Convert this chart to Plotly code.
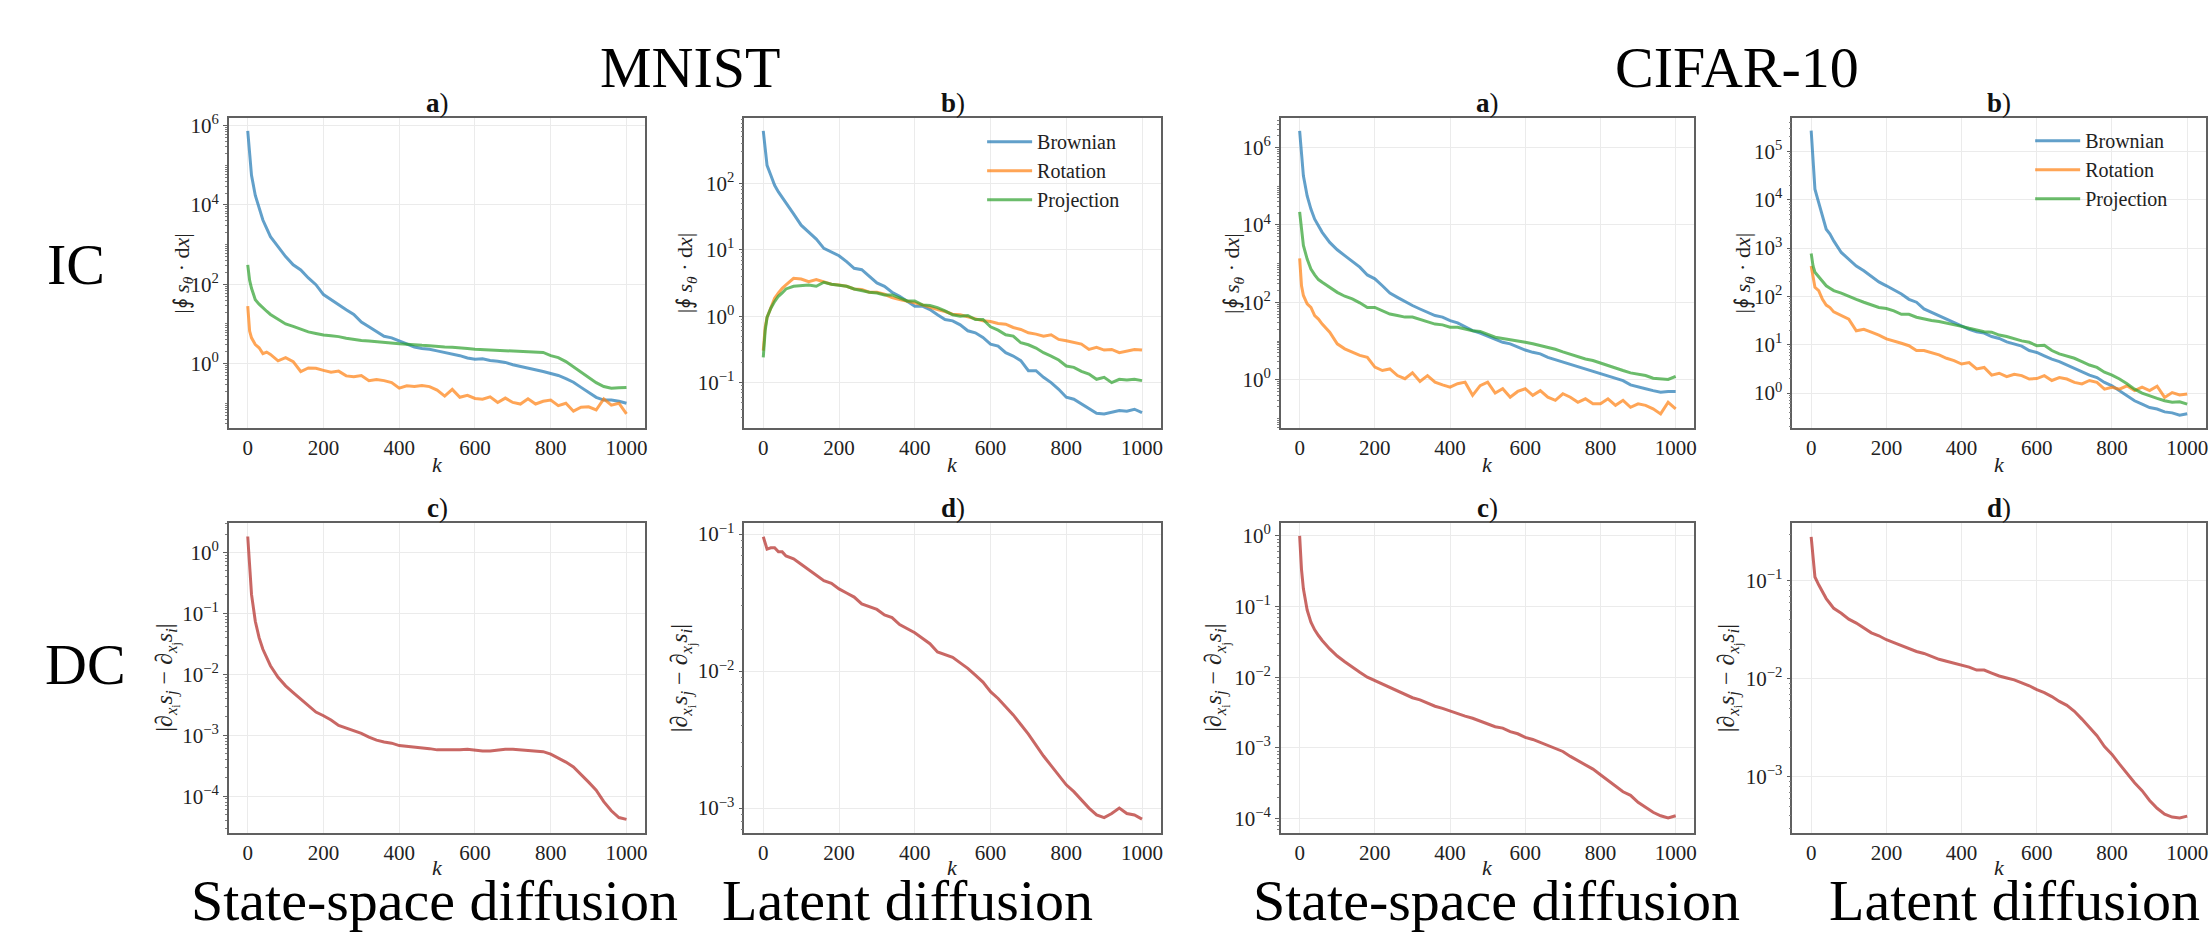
import plotly.graph_objects as go

# ---------------- data (stored as log10) ----------------
K = [0, 5, 10, 20, 30, 40, 50, 60, 80, 100,
     120, 140, 160, 180, 200, 220, 240, 260, 280, 300,
     320, 340, 360, 380, 400, 420, 440, 460, 480, 500,
     520, 540, 560, 580, 600, 620, 640, 660, 680, 700,
     720, 740, 760, 780, 800, 820, 840, 860, 880, 900,
     920, 940, 960, 980, 1000]

# MNIST, state-space, IC (panel a)
mnist_ss_brownian_log = [5.87, 5.20, 4.75, 4.24, 3.91, 3.62, 3.41, 3.20, 2.95, 2.70,
                         2.49, 2.36, 2.16, 1.99, 1.74, 1.61, 1.47, 1.36, 1.24, 1.05,
                         0.93, 0.80, 0.69, 0.65, 0.57, 0.49, 0.42, 0.38, 0.36, 0.32,
                         0.28, 0.24, 0.20, 0.14, 0.11, 0.12, 0.08, 0.06, 0.03, -0.03,
                         -0.07, -0.12, -0.15, -0.20, -0.25, -0.30, -0.38, -0.47, -0.60, -0.73,
                         -0.85, -0.92, -0.92, -0.95, -1.00]
mnist_ss_rotation_log = [1.45, 0.82, 0.65, 0.48, 0.40, 0.25, 0.29, 0.23, 0.07, 0.15,
                         0.05, -0.20, -0.11, -0.12, -0.17, -0.22, -0.19, -0.31, -0.33, -0.30,
                         -0.43, -0.40, -0.43, -0.48, -0.62, -0.56, -0.58, -0.55, -0.58, -0.67,
                         -0.82, -0.65, -0.85, -0.80, -0.88, -0.90, -0.84, -0.98, -0.87, -0.98,
                         -1.02, -0.89, -1.02, -0.95, -0.92, -1.06, -1.00, -1.20, -1.10, -1.09,
                         -1.17, -0.89, -1.05, -1.00, -1.27]
mnist_ss_projection_log = [2.49, 2.10, 1.90, 1.61, 1.50, 1.40, 1.32, 1.24, 1.11, 1.00,
                           0.94, 0.86, 0.80, 0.76, 0.72, 0.70, 0.68, 0.64, 0.61, 0.58,
                           0.57, 0.55, 0.53, 0.51, 0.50, 0.49, 0.47, 0.46, 0.45, 0.43,
                           0.42, 0.41, 0.40, 0.38, 0.36, 0.35, 0.34, 0.33, 0.33, 0.32,
                           0.31, 0.30, 0.28, 0.28, 0.20, 0.15, 0.05, -0.08, -0.20, -0.35,
                           -0.48, -0.58, -0.62, -0.61, -0.60]

# MNIST, latent, IC (panel b)
mnist_lat_brownian_log = [2.79, 2.50, 2.27, 2.12, 1.97, 1.87, 1.79, 1.72, 1.54, 1.37,
                          1.27, 1.16, 1.02, 0.97, 0.91, 0.82, 0.72, 0.70, 0.60, 0.50,
                          0.45, 0.36, 0.30, 0.22, 0.15, 0.15, 0.10, 0.02, -0.05, -0.07,
                          -0.13, -0.22, -0.25, -0.32, -0.42, -0.45, -0.55, -0.60, -0.67, -0.82,
                          -0.82, -0.92, -1.00, -1.10, -1.22, -1.25, -1.32, -1.40, -1.46, -1.47,
                          -1.45, -1.42, -1.43, -1.40, -1.45]
mnist_lat_rotation_log = [-0.52, -0.17, -0.02, 0.12, 0.27, 0.35, 0.42, 0.47, 0.57, 0.56,
                          0.52, 0.55, 0.51, 0.48, 0.47, 0.45, 0.41, 0.40, 0.36, 0.36,
                          0.33, 0.28, 0.25, 0.23, 0.20, 0.17, 0.13, 0.10, 0.07, 0.03,
                          0.02, -0.01, -0.05, -0.07, -0.08, -0.11, -0.12, -0.17, -0.20, -0.25,
                          -0.27, -0.30, -0.28, -0.35, -0.37, -0.40, -0.42, -0.50, -0.47, -0.51,
                          -0.50, -0.55, -0.52, -0.50, -0.51]
mnist_lat_projection_log = [-0.62, -0.22, -0.02, 0.12, 0.22, 0.30, 0.35, 0.41, 0.45, 0.46,
                            0.47, 0.45, 0.51, 0.48, 0.46, 0.45, 0.41, 0.38, 0.36, 0.35,
                            0.32, 0.32, 0.27, 0.23, 0.23, 0.17, 0.16, 0.13, 0.08, 0.02,
                            0.00, 0.01, -0.05, -0.05, -0.16, -0.21, -0.28, -0.30, -0.40, -0.43,
                            -0.48, -0.55, -0.60, -0.66, -0.75, -0.77, -0.83, -0.87, -0.95, -0.92,
                            -1.00, -0.95, -0.96, -0.95, -0.97]

# CIFAR-10, state-space, IC (panel a)
cifar_ss_brownian_log = [6.43, 5.87, 5.27, 4.75, 4.41, 4.15, 3.98, 3.81, 3.55, 3.36,
                         3.21, 3.06, 2.91, 2.71, 2.61, 2.43, 2.24, 2.13, 2.02, 1.92,
                         1.83, 1.75, 1.66, 1.62, 1.53, 1.47, 1.36, 1.27, 1.21, 1.13,
                         1.04, 0.97, 0.93, 0.84, 0.77, 0.71, 0.67, 0.58, 0.52, 0.47,
                         0.41, 0.34, 0.27, 0.21, 0.15, 0.09, 0.03, -0.02, -0.13, -0.19,
                         -0.23, -0.28, -0.32, -0.30, -0.30]
cifar_ss_rotation_log = [3.14, 2.43, 2.18, 1.96, 1.87, 1.66, 1.57, 1.44, 1.23, 0.93,
                         0.80, 0.71, 0.63, 0.58, 0.33, 0.24, 0.28, 0.11, 0.03, 0.18,
                         -0.04, 0.11, -0.06, -0.13, -0.19, -0.10, -0.06, -0.40, -0.15, -0.06,
                         -0.34, -0.23, -0.45, -0.30, -0.23, -0.40, -0.28, -0.45, -0.53, -0.36,
                         -0.45, -0.58, -0.49, -0.62, -0.62, -0.49, -0.66, -0.53, -0.71, -0.62,
                         -0.66, -0.75, -0.88, -0.58, -0.75]
cifar_ss_projection_log = [4.34, 3.81, 3.47, 3.12, 2.86, 2.71, 2.59, 2.52, 2.39, 2.26,
                           2.16, 2.09, 1.99, 1.87, 1.87, 1.79, 1.70, 1.66, 1.62, 1.62,
                           1.56, 1.50, 1.44, 1.42, 1.36, 1.36, 1.32, 1.27, 1.25, 1.17,
                           1.10, 1.07, 1.04, 1.00, 0.97, 0.93, 0.88, 0.84, 0.79, 0.72,
                           0.66, 0.58, 0.54, 0.50, 0.44, 0.37, 0.30, 0.24, 0.18, 0.15,
                           0.11, 0.04, 0.03, 0.01, 0.09]

# CIFAR-10, latent, IC (panel b)
cifar_lat_brownian_log = [5.43, 4.90, 4.22, 3.94, 3.67, 3.39, 3.29, 3.15, 2.91, 2.77,
                          2.63, 2.53, 2.41, 2.30, 2.22, 2.14, 2.05, 1.94, 1.88, 1.74,
                          1.67, 1.60, 1.53, 1.45, 1.39, 1.32, 1.27, 1.24, 1.17, 1.13,
                          1.06, 1.01, 0.97, 0.88, 0.84, 0.77, 0.70, 0.65, 0.58, 0.51,
                          0.44, 0.37, 0.32, 0.22, 0.15, 0.05, -0.06, -0.16, -0.23, -0.30,
                          -0.33, -0.39, -0.41, -0.46, -0.43]
cifar_lat_rotation_log = [2.63, 2.36, 2.19, 2.12, 1.94, 1.82, 1.77, 1.68, 1.60, 1.53,
                          1.29, 1.32, 1.26, 1.20, 1.12, 1.08, 1.03, 0.98, 0.88, 0.88,
                          0.84, 0.79, 0.72, 0.67, 0.60, 0.63, 0.50, 0.53, 0.37, 0.41,
                          0.34, 0.39, 0.36, 0.29, 0.30, 0.36, 0.26, 0.32, 0.29, 0.22,
                          0.19, 0.26, 0.22, 0.08, 0.12, 0.08, 0.15, 0.05, 0.12, 0.05,
                          0.14, -0.09, 0.01, -0.04, -0.02]
cifar_lat_projection_log = [2.89, 2.63, 2.50, 2.41, 2.32, 2.22, 2.17, 2.12, 2.07, 2.00,
                            1.94, 1.88, 1.82, 1.77, 1.75, 1.70, 1.63, 1.63, 1.57, 1.53,
                            1.50, 1.48, 1.45, 1.41, 1.38, 1.34, 1.31, 1.27, 1.26, 1.20,
                            1.17, 1.12, 1.08, 1.05, 0.98, 0.99, 0.88, 0.81, 0.76, 0.72,
                            0.65, 0.58, 0.53, 0.43, 0.37, 0.29, 0.19, 0.08, 0.00, -0.06,
                            -0.11, -0.16, -0.19, -0.18, -0.23]

# DC panels (c, d)
mnist_ss_dc_log = [0.26, -0.26, -0.69, -1.13, -1.40, -1.59, -1.73, -1.86, -2.05, -2.19,
                   -2.30, -2.41, -2.51, -2.62, -2.68, -2.75, -2.84, -2.88, -2.92, -2.97,
                   -3.03, -3.08, -3.11, -3.13, -3.17, -3.18, -3.19, -3.21, -3.22, -3.24,
                   -3.24, -3.25, -3.24, -3.23, -3.25, -3.26, -3.26, -3.24, -3.23, -3.23,
                   -3.24, -3.25, -3.26, -3.27, -3.31, -3.37, -3.44, -3.52, -3.64, -3.77,
                   -3.90, -4.09, -4.24, -4.35, -4.38]
mnist_lat_dc_log = [-1.02, -1.06, -1.11, -1.10, -1.10, -1.13, -1.13, -1.16, -1.18, -1.22,
                    -1.26, -1.30, -1.34, -1.36, -1.40, -1.43, -1.46, -1.51, -1.53, -1.55,
                    -1.59, -1.61, -1.66, -1.69, -1.72, -1.76, -1.80, -1.86, -1.88, -1.90,
                    -1.94, -1.98, -2.03, -2.08, -2.15, -2.20, -2.26, -2.32, -2.39, -2.46,
                    -2.54, -2.62, -2.69, -2.76, -2.83, -2.88, -2.94, -3.00, -3.05, -3.07,
                    -3.04, -3.00, -3.04, -3.05, -3.08]
cifar_ss_dc_log = [0.00, -0.48, -0.75, -1.05, -1.22, -1.33, -1.41, -1.48, -1.60, -1.70,
                   -1.78, -1.86, -1.93, -2.00, -2.05, -2.10, -2.15, -2.19, -2.24, -2.29,
                   -2.32, -2.37, -2.41, -2.44, -2.48, -2.51, -2.55, -2.58, -2.62, -2.66,
                   -2.70, -2.72, -2.77, -2.80, -2.85, -2.88, -2.92, -2.96, -3.00, -3.05,
                   -3.12, -3.18, -3.24, -3.30, -3.38, -3.46, -3.54, -3.62, -3.67, -3.77,
                   -3.84, -3.91, -3.96, -3.99, -3.96]
cifar_lat_dc_log = [-0.55, -0.76, -0.96, -1.04, -1.11, -1.18, -1.23, -1.28, -1.33, -1.39,
                    -1.43, -1.48, -1.53, -1.56, -1.60, -1.63, -1.66, -1.69, -1.72, -1.74,
                    -1.77, -1.80, -1.82, -1.84, -1.86, -1.88, -1.91, -1.91, -1.94, -1.97,
                    -1.99, -2.01, -2.04, -2.07, -2.11, -2.14, -2.18, -2.23, -2.27, -2.33,
                    -2.41, -2.50, -2.58, -2.69, -2.77, -2.87, -2.97, -3.06, -3.14, -3.24,
                    -3.32, -3.38, -3.41, -3.42, -3.40]

SERIES_NAMES = ["Brownian", "Rotation", "Projection"]
X_TICKS = [0, 200, 400, 600, 800, 1000]

# y-axis tick exponents and log10 ranges per panel
TICKS = {
    "mnist_a": [0, 2, 4, 6], "mnist_b": [-1, 0, 1, 2],
    "cifar_a": [0, 2, 4, 6], "cifar_b": [0, 1, 2, 3, 4, 5],
    "mnist_c": [-4, -3, -2, -1, 0], "mnist_d": [-3, -2, -1],
    "cifar_c": [-4, -3, -2, -1, 0], "cifar_d": [-3, -2, -1],
}
YRANGE = {
    "mnist_a": [-1.62, 6.19], "mnist_b": [-1.68, 2.98],
    "cifar_a": [-1.24, 6.76], "cifar_b": [-0.72, 5.69],
    "mnist_c": [-4.60, 0.48], "mnist_d": [-3.18, -0.92],
    "cifar_c": [-4.20, 0.18], "cifar_d": [-3.57, -0.41],
}

# ---------------- layout helpers ----------------
W, H = 2212, 934
SERIF = "Liberation Serif, Times New Roman, serif"
IC_COLORS = ["rgba(31,119,180,0.7)", "rgba(255,127,14,0.7)", "rgba(44,160,44,0.7)"]
DC_COLOR = "rgba(180,45,40,0.72)"
COLS = [(229, 646), (745, 1162), (1282, 1696), (1794, 2208)]
ROWS = [(112, 424), (520, 832)]


def px(x):
    return x / W


def py(y):
    return 1 - y / H


def to_val(logs):
    return [10 ** v for v in logs]


def sup(e):
    s = str(abs(e))
    return "10<sup>" + ("\u2212" if e < 0 else "") + s + "</sup>"


IC_Y = "|\u222e <i>s</i><sub><i>\u03b8</i></sub> \u00b7 d<i>x</i>|"
DC_Y = ("|\u2202<sub><i>x</i><sub>i</sub></sub><i>s</i><sub><i>j</i></sub> \u2212 "
        "\u2202<sub><i>x</i><sub>j</sub></sub><i>s</i><sub><i>i</i></sub>|")

panels = [
    ("mnist_a", 0, 0, "a", [(n, v, c) for n, v, c in zip(SERIES_NAMES, [mnist_ss_brownian_log, mnist_ss_rotation_log, mnist_ss_projection_log], IC_COLORS)], 183, None),
    ("mnist_b", 0, 1, "b", [(n, v, c) for n, v, c in zip(SERIES_NAMES, [mnist_lat_brownian_log, mnist_lat_rotation_log, mnist_lat_projection_log], IC_COLORS)], 687, "legend"),
    ("cifar_a", 0, 2, "a", [(n, v, c) for n, v, c in zip(SERIES_NAMES, [cifar_ss_brownian_log, cifar_ss_rotation_log, cifar_ss_projection_log], IC_COLORS)], 1234, None),
    ("cifar_b", 0, 3, "b", [(n, v, c) for n, v, c in zip(SERIES_NAMES, [cifar_lat_brownian_log, cifar_lat_rotation_log, cifar_lat_projection_log], IC_COLORS)], 1746, "legend2"),
    ("mnist_c", 1, 0, "c", [("DC", mnist_ss_dc_log, DC_COLOR)], 168, None),
    ("mnist_d", 1, 1, "d", [("DC", mnist_lat_dc_log, DC_COLOR)], 684, None),
    ("cifar_c", 1, 2, "c", [("DC", cifar_ss_dc_log, DC_COLOR)], 1218, None),
    ("cifar_d", 1, 3, "d", [("DC", cifar_lat_dc_log, DC_COLOR)], 1731, None),
]

fig = go.Figure()
layout = dict(
    width=W, height=H, margin=dict(l=0, r=0, t=0, b=0),
    paper_bgcolor="white", plot_bgcolor="white",
    font=dict(family=SERIF, size=21, color="#222"),
    annotations=[],
)

for i, (key, r, c, letter, series, ytx, leg) in enumerate(panels):
    idx = i + 1
    xa = "x" if idx == 1 else f"x{idx}"
    ya = "y" if idx == 1 else f"y{idx}"
    x0, x1 = COLS[c]
    y0, y1 = ROWS[r]
    for name, logs, color in series:
        fig.add_trace(go.Scatter(
            x=K, y=to_val(logs), mode="lines", name=name,
            line=dict(color=color, width=3),
            xaxis=xa, yaxis=ya,
            showlegend=leg is not None, legend=leg if leg else "legend",
        ))
    exps = TICKS[key]
    lo, hi = YRANGE[key]
    minor_vals = []
    for d in range(int(lo) - 1, int(hi) + 2):
        for m in range(2, 10):
            minor_vals.append(m * 10 ** d)
        if d not in exps:
            minor_vals.append(10 ** d)
    axis_common = dict(showline=True, mirror=True, linecolor="#606060", linewidth=1.5,
                       gridcolor="#ebebeb", gridwidth=1, zeroline=False,
                       tickfont=dict(family=SERIF, size=21, color="#222"))
    layout["xaxis" if idx == 1 else f"xaxis{idx}"] = dict(
        domain=[px(x0), px(x1)], anchor=ya, range=[-50, 1050],
        tickmode="array", tickvals=X_TICKS, ticktext=[str(t) for t in X_TICKS],
        ticks="", **axis_common)
    layout["yaxis" if idx == 1 else f"yaxis{idx}"] = dict(
        domain=[py(y1), py(y0)], anchor=xa, type="log", range=[lo, hi],
        tickmode="array", tickvals=[10 ** e for e in exps], ticktext=[sup(e) for e in exps],
        ticks="outside", ticklen=4, tickcolor="#606060",
        minor=dict(tickmode="array", tickvals=minor_vals, ticks="outside", ticklen=2,
                   tickcolor="#808080", showgrid=False),
        **axis_common)
    cx = (x0 + x1) / 2
    layout["annotations"].append(dict(
        x=px(cx), y=py(y0 - 15), xref="paper", yref="paper", showarrow=False,
        text=f"<b>{letter}</b>)", font=dict(family=SERIF, size=27, color="#111"),
        xanchor="center", yanchor="middle"))
    layout["annotations"].append(dict(
        x=px(cx), y=py(y1 + (37 if r == 0 else 35)), xref="paper", yref="paper", showarrow=False,
        text="<i>k</i>", font=dict(family=SERIF, size=22, color="#222"),
        xanchor="center", yanchor="middle"))
    layout["annotations"].append(dict(
        x=px(ytx), y=py((y0 + y1) / 2), xref="paper", yref="paper", showarrow=False,
        text=IC_Y if r == 0 else DC_Y, textangle=-90,
        font=dict(family=SERIF, size=22 if r == 0 else 24, color="#222"),
        xanchor="center", yanchor="middle"))

big = dict(family=SERIF, size=58, color="black")
for txt, x, y in [("MNIST", 691, 61), ("CIFAR-10", 1739, 61), ("IC", 76, 259), ("DC", 86, 662),
                  ("State-space diffusion", 435, 900), ("Latent diffusion", 908, 900),
                  ("State-space diffusion", 1498, 900), ("Latent diffusion", 2016, 900)]:
    layout["annotations"].append(dict(
        x=px(x), y=py(y), xref="paper", yref="paper", showarrow=False, text=txt,
        font=big, xanchor="center", yanchor="middle"))

leg_common = dict(bgcolor="rgba(0,0,0,0)", borderwidth=0, font=dict(family=SERIF, size=20, color="#222"),
                  xanchor="left", yanchor="top", itemwidth=45, tracegroupgap=0)
layout["legend"] = dict(x=px(983), y=py(116), **leg_common)
layout["legend2"] = dict(x=px(2032), y=py(115), **leg_common)

fig.update_layout(**layout)
# drop the browser's default 8px body margin so the figure fills the window exactly
fig.write_html("out.html", config={"displayModeBar": False},
               post_script="document.body.style.margin='0px';document.body.style.overflow='hidden';")
